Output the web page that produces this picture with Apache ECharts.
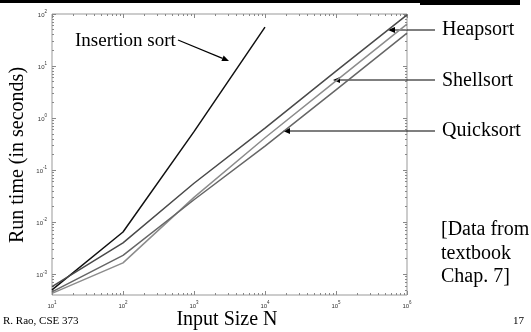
<!DOCTYPE html>
<html>
<head>
<meta charset="utf-8">
<script src="https://cdn.jsdelivr.net/npm/echarts@6/dist/echarts.min.js"></script>
<style>
  html, body { margin: 0; padding: 0; background: #fff; }
  #chart { width: 531px; height: 332px; }
</style>
</head>
<body>
<div id="chart"></div>
<script>
/* ---- data ---- */
var sizes = [10, 100, 1000, 10000, 100000, 1000000];
var insertion = [5.0e-4, 0.0065, 0.55, 56];
var heapsort = [5.8e-4, 0.004, 0.056, 0.64, 8.0, 96];
var shellsort = [4.3e-4, 0.00166, 0.03, 0.42, 5.2, 64];
var quicksort = [4.6e-4, 0.0023, 0.027, 0.29, 3.5, 43];

var xTicks = [10, 100, 1000, 10000, 100000, 1000000];
var yTicks = [0.001, 0.01, 0.1, 1, 10, 100];
var xMin = 10, xMax = 1000000;
var yMin = 0.0004, yMax = 100;

/* minor ticks: 2..9 inside each decade */
function minorTicks(lo, hi) {
  var out = [];
  for (var d = Math.pow(10, Math.floor(Math.log10(lo))); d < hi; d *= 10) {
    for (var k = 2; k <= 9; k++) {
      var v = d * k;
      if (v > lo && v < hi) out.push(v);
    }
  }
  return out;
}
var xMinor = minorTicks(xMin, xMax);
var yMinor = minorTicks(yMin, yMax);

function pairs(arr) {
  return arr.map(function(v, i) { return [sizes[i], v]; });
}

function powLabel(v) {
  var e = Math.round(Math.log10(v));
  return '{b|10}{s|' + e + '}';
}

var labelRich = {
  b: { fontSize: 6, color: '#333', fontFamily: 'Liberation Sans', verticalAlign: 'bottom' },
  s: { fontSize: 4.5, color: '#333', fontFamily: 'Liberation Sans', verticalAlign: 'bottom', padding: [0, 0, 4, 0] }
};

function makeAxis(type, pos, ticks, len, labels) {
  var isX = (type === 'x');
  return {
    type: 'log',
    logBase: 10,
    position: pos,
    min: isX ? xMin : yMin,
    max: isX ? xMax : yMax,
    axisLine: { show: false },
    splitLine: { show: false },
    axisTick: {
      show: true, inside: true, length: len,
      customValues: ticks,
      lineStyle: { color: '#888', width: 1 }
    },
    axisLabel: labels ? {
      show: true,
      customValues: ticks,
      margin: isX ? 5 : 5,
      formatter: powLabel,
      rich: labelRich
    } : { show: false }
  };
}

var serif = 'Liberation Serif';

function txt(x, y, s, size, align) {
  return {
    type: 'text', x: x, y: y,
    style: { text: s, font: size + 'px "' + serif + '"', fill: '#000',
             textAlign: align || 'left', textVerticalAlign: 'middle' }
  };
}

function arrow(x1, y1, x2, y2) {
  var a = Math.atan2(y2 - y1, x2 - x1);
  var L = 7, W = 3;
  var bx = x2 - L * Math.cos(a), by = y2 - L * Math.sin(a);
  var px = -Math.sin(a) * W, py = Math.cos(a) * W;
  return [
    { type: 'line', shape: { x1: x1, y1: y1, x2: bx, y2: by },
      style: { stroke: '#000', lineWidth: 1.2 } },
    { type: 'polygon', shape: { points: [[x2, y2], [bx + px, by + py], [bx - px, by - py]] },
      style: { fill: '#000' } }
  ];
}

var graphics = [
  { type: 'rect', shape: { x: 0, y: 0, width: 520, height: 3 }, style: { fill: '#000' } },
  { type: 'rect', shape: { x: 420, y: 0, width: 100, height: 5 }, style: { fill: '#000' } },
  txt(75, 41, 'Insertion sort', 19),
  txt(442, 30, 'Heapsort', 20),
  txt(442, 81, 'Shellsort', 20),
  txt(442, 131, 'Quicksort', 20),
  txt(441, 230, '[Data from', 20),
  txt(441, 254, 'textbook', 20),
  txt(441, 277, 'Chap. 7]', 20),
  txt(227, 320, 'Input Size N', 20, 'center'),
  txt(3, 321, 'R. Rao, CSE 373', 11),
  txt(513, 321, '17', 11),
  {
    type: 'text', x: 18, y: 155, rotation: Math.PI / 2,
    style: { text: 'Run time (in seconds)', font: '20px "' + serif + '"', fill: '#000',
             textAlign: 'center', textVerticalAlign: 'middle' }
  }
]
  .concat(arrow(178, 40, 229, 61))
  .concat(arrow(435, 30, 388, 30))
  .concat(arrow(435, 80, 333, 80))
  .concat(arrow(435, 131, 283, 131));

var chart = echarts.init(document.getElementById('chart'), null, { renderer: 'canvas' });

chart.setOption({
  animation: false,
  backgroundColor: '#fff',
  grid: {
    left: 52, top: 14, right: 124, bottom: 37,
    show: true, borderColor: '#999', borderWidth: 1, backgroundColor: 'transparent'
  },
  xAxis: [
    makeAxis('x', 'bottom', xTicks, 4, true),
    makeAxis('x', 'bottom', xMinor, 2, false),
    makeAxis('x', 'top', xTicks, 4, false),
    makeAxis('x', 'top', xMinor, 2, false)
  ],
  yAxis: [
    makeAxis('y', 'left', yTicks, 4, true),
    makeAxis('y', 'left', yMinor, 2, false),
    makeAxis('y', 'right', yTicks, 4, false),
    makeAxis('y', 'right', yMinor, 2, false)
  ],
  series: [
    { name: 'Insertion sort', type: 'line', data: pairs(insertion), symbol: 'none',
      lineStyle: { color: '#111', width: 1.5 } },
    { name: 'Heapsort', type: 'line', data: pairs(heapsort), symbol: 'none',
      lineStyle: { color: '#4a4a4a', width: 1.5 } },
    { name: 'Shellsort', type: 'line', data: pairs(shellsort), symbol: 'none',
      lineStyle: { color: '#8c8c8c', width: 1.5 } },
    { name: 'Quicksort', type: 'line', data: pairs(quicksort), symbol: 'none',
      lineStyle: { color: '#666', width: 1.5 } }
  ],
  graphic: graphics
});
</script>
</body>
</html>
